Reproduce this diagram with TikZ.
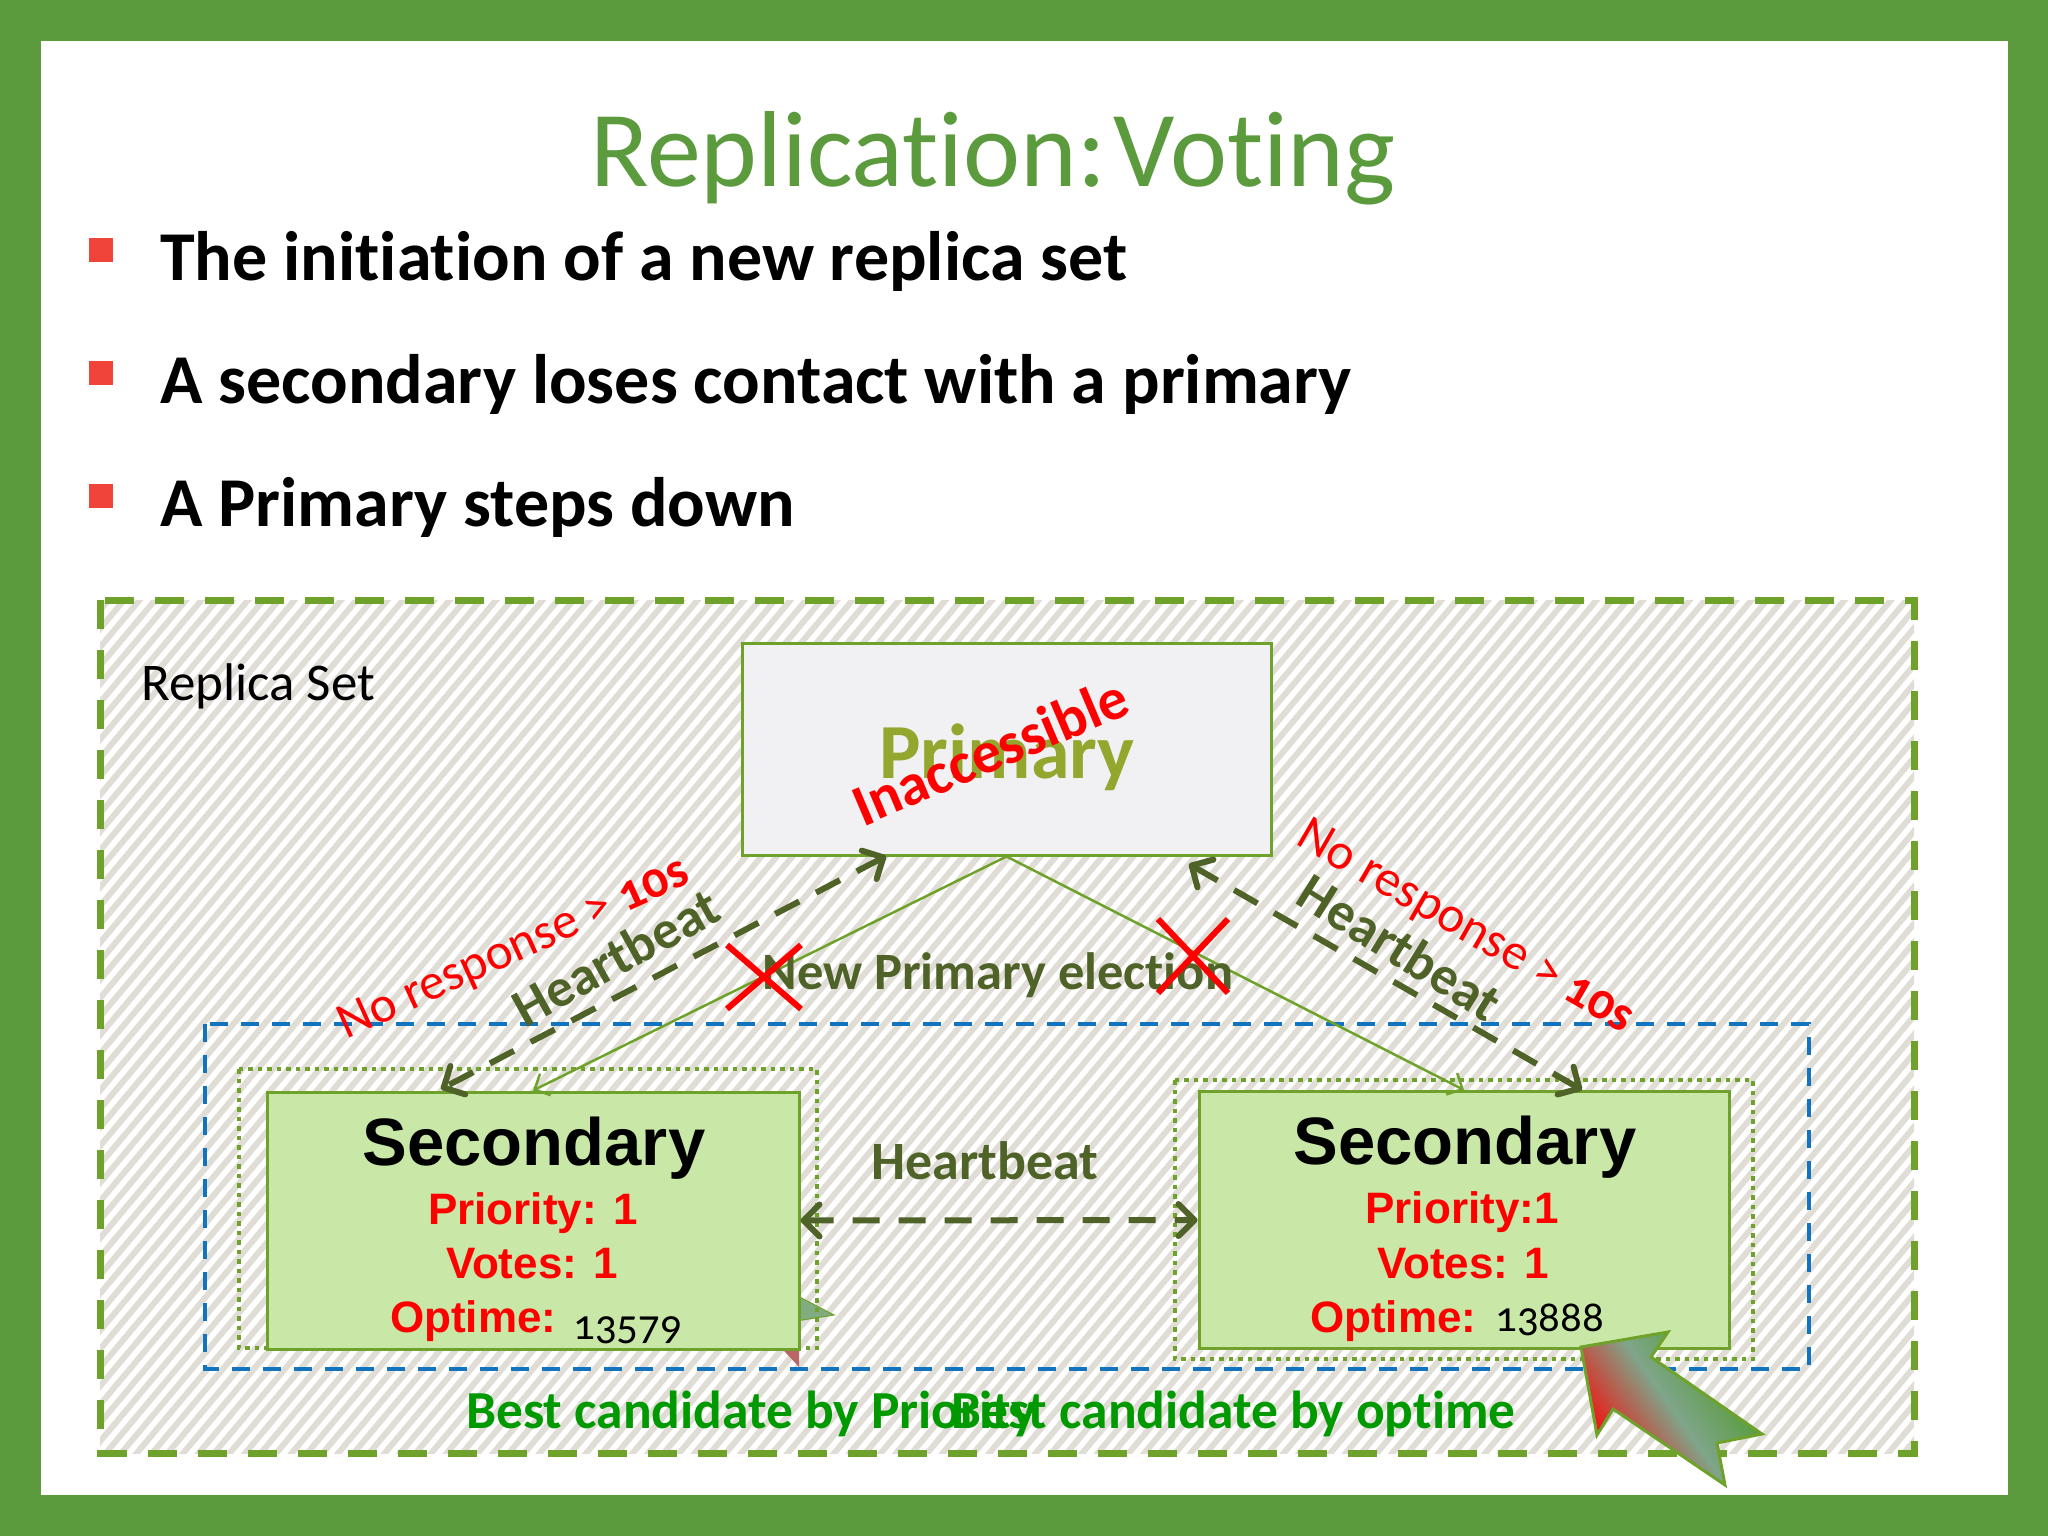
\documentclass[tikz,border=0pt]{standalone}
\usepackage{fontspec}
\setmainfont[Ligatures=NoCommon]{Carlito}
\setsansfont{Liberation Sans}
\newfontfamily\oldnum[Numbers=OldStyle,Ligatures=NoCommon]{Carlito}
\usetikzlibrary{arrows.meta,shapes.misc}
\newcommand{\fs}[1]{\fontsize{#1}{#1}\selectfont}
\definecolor{framegreen}{HTML}{5B9B3E}
\definecolor{linegreen}{HTML}{6FA22B}
\definecolor{darkgreen}{HTML}{4F6228}
\definecolor{olive}{HTML}{93A62E}
\definecolor{boxgreen}{HTML}{C9E7A7}
\definecolor{boxgrey}{HTML}{F1F1F3}
\definecolor{hatch}{HTML}{E0DDD6}
\definecolor{bestgreen}{HTML}{009900}
\definecolor{setblue}{HTML}{1273BE}
\definecolor{bulletred}{HTML}{F0443A}
\definecolor{arrowmid}{HTML}{7FA58A}
\definecolor{arrowtop}{HTML}{4A9A20}
\begin{document}
\begin{tikzpicture}[x=1pt,y=-1pt,
bullet/.style={rectangle,fill=bulletred,minimum size=24pt,inner sep=0pt},
bullet text/.style={anchor=base west,inner sep=0pt,font=\fs{70}\bfseries},
sec box/.style={rectangle,draw=linegreen,line width=3pt,fill=boxgreen,minimum width=532pt,minimum height=257pt,inner sep=0pt},
dot box/.style={draw=linegreen,line width=4.5pt,dash pattern=on 4.5pt off 5pt},
sec title/.style={anchor=base,inner sep=0pt,font=\fs{67}\sffamily\bfseries},
sec info/.style={anchor=base,inner sep=0pt,text=red,font=\fs{44}\sffamily\bfseries},
sec num/.style={anchor=base west,inner sep=0pt,font=\fs{43}\oldnum},
heart/.style={anchor=center,inner sep=0pt,text=darkgreen,font=\fs{54}\bfseries},
noresp/.style={anchor=center,inner sep=0pt,text=red,font=\fs{51}},
beat line/.style={draw=darkgreen,line width=6pt,dash pattern=on 27pt off 19pt,{Straight Barb[round,length=16pt,width=32pt]}-{Straight Barb[round,length=16pt,width=32pt]}},
elect line/.style={draw=linegreen,line width=2.5pt,-{Straight Barb[length=12pt,width=24pt]}},
red cross/.style={cross out,draw=red,line width=6pt,inner sep=0pt},
best/.style={anchor=base west,inner sep=0pt,text=bestgreen,font=\fs{53.5}\bfseries}]
\useasboundingbox (0,0) rectangle (2048,1536);
% frame
\fill[framegreen] (0,0) rectangle (2048,1536);
\fill[white] (41,41) rectangle (2008,1495);
% hatching of the replica set
\begin{scope}
\clip (100,600) rectangle (1914,1453);
\foreach \i in {-50,...,122} {
\draw[hatch,line width=6pt] (100+\i*15.5,1460) -- ++(730,-870);
}
\end{scope}
% title and bullets
\node[anchor=base,inner sep=0pt,text=framegreen,font=\fs{108}] (title) at (993,186) {Replication:\kern-17pt\ Voting};
\node[bullet] (b1) at (101,250) {};
\node[bullet] (b2) at (101,373) {};
\node[bullet] (b3) at (101,496) {};
\node[bullet text] (t1) at (160,280) {The initiation of a new replica set};
\node[bullet text] (t2) at (160,403) {A secondary loses contact with a primary};
\node[bullet text] (t3) at (160,526) {A Primary steps down};
% replica set frames
\draw[linegreen,line width=7pt,dash pattern=on 29pt off 21pt] (100.5,600) rectangle (1914,1453);
\draw[setblue,line width=3.5pt,dash pattern=on 18pt off 13pt] (205,1024) rectangle (1809,1369);
\node[anchor=base west,inner sep=0pt,font=\fs{53}] (rs) at (141,700) {Replica Set};
% small arrow hidden behind the left secondary
\fill[draw=linegreen,line width=1pt,fill=green!35!black!50!white] (790,1292) -- (834,1315) -- (790,1322) -- cycle;
\fill[fill=red!55!black!60!white] (774,1340) -- (799,1340) -- (799,1367) -- cycle;
% boxes
\draw[dot box] (239,1069) rectangle (817,1348);
\draw[dot box] (1175,1080) rectangle (1753,1359);
\node[rectangle,draw=linegreen,line width=3pt,fill=boxgrey,minimum width=529pt,minimum height=212pt,inner sep=0pt] (primary) at (1006.5,749) {};
\node[sec box] (secleft) at (533,1220.5) {};
\node[sec box,minimum width=530pt] (secright) at (1464,1220) {};
% primary texts
\node[anchor=base,inner sep=0pt,text=olive,font=\fs{78}\bfseries] (ptext) at (1007,778) {Primary};
\node[anchor=center,inner sep=0pt,text=red,rotate=23,font=\fs{59}\bfseries] (inacc) at (990,751) {Inaccessible};
% left secondary texts
\node[sec title] (s1) at (534,1165) {Secondary};
\node[sec info] (p1) at (533,1224) {Priority: 1};
\node[sec info] (v1) at (532,1278) {Votes: 1};
\node[sec info,anchor=base west] (o1) at (390,1332) {Optime:};
\node[sec num] (n1) at (573,1339) {13579};
% right secondary texts
\node[sec title] (s2) at (1465,1164) {Secondary};
\node[sec info] (p2) at (1462,1223) {Priority:1};
\node[sec info] (v2) at (1463,1278) {Votes: 1};
\node[sec info,anchor=base west] (o2) at (1310,1332) {Optime:};
\node[sec num] (n2) at (1495,1331) {13888};
% connectors
\coordinate (hla) at (886,856);
\coordinate (hlb) at (441,1089);
\coordinate (hra) at (1189,864);
\coordinate (hrb) at (1582,1090);
\draw[elect line] (primary.south) -- (secleft.north);
\draw[elect line] (primary.south) -- (secright.north);
\draw[beat line] (hla) -- (hlb);
\draw[beat line] (hra) -- (hrb);
\draw[beat line] (secleft.east) -- (secright.west);
% labels on the connectors
\node[heart,font=\fs{52.5}\bfseries] (helect) at (998,975) {New Primary election};
\node[heart] (hmid) at (985,1161) {Heartbeat};
\node[heart,rotate=29] (hleft) at (616,957) {Heartbeat};
\node[heart,rotate=-32] (hright) at (1400,947) {Heartbeat};
\node[noresp,rotate=24.5] (nleft) at (514,950) {No response > {\oldnum\bfseries 10s}};
\node[noresp,rotate=-30] (nright) at (1465,928) {No response > {\oldnum\bfseries 10s}};
\node[red cross,minimum width=68pt,minimum height=58pt] (xleft) at (764,977) {};
\node[red cross,minimum width=64pt,minimum height=68pt] (xright) at (1193,956) {};
% candidates
\node[best] (bp) at (466,1428) {Best candidate by Priority};
\node[best] (bo) at (951,1428) {Best candidate by optime};
% big arrow
\shade[top color=arrowtop,bottom color=red,middle color=arrowmid,shading angle=-55]
(1668,1332) -- (1581,1347) -- (1597,1435) -- (1613,1409) -- (1725,1485) -- (1717,1443) -- (1762,1434) -- (1651,1357) -- cycle;
\draw[linegreen,line width=3pt,line join=miter] (1668,1332) -- (1581,1347) -- (1597,1435) -- (1613,1409) -- (1725,1485) -- (1717,1443) -- (1762,1434) -- (1651,1357) -- cycle;
\end{tikzpicture}
\end{document}
